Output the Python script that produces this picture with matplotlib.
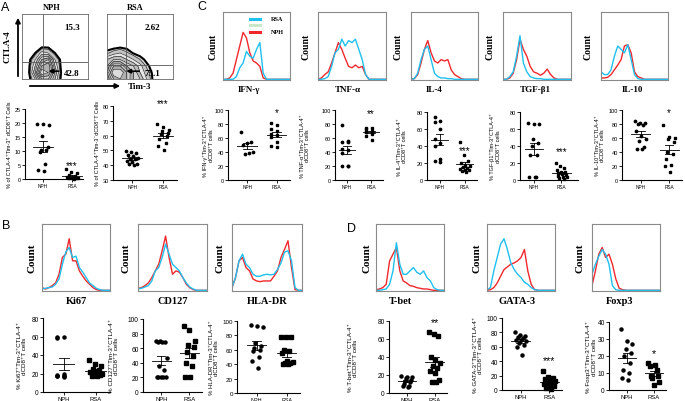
import numpy as np
import matplotlib
matplotlib.use("Agg")
import matplotlib.pyplot as plt

plt.rcParams['font.family'] = ['Liberation Sans', 'DejaVu Sans']

W, H = 685, 402
RED = '#f0282d'
CYAN = '#1ec0f0'
SERIF = ['Liberation Serif', 'DejaVu Serif']

# ---------------- data ----------------
# panel A flow plots: density grid, rows y = 0..0.6 (step 0.1), cols x = 0..1 (step 0.1)
flow_x = np.linspace(0, 1, 11)
flow_y = np.linspace(0, 0.6, 7)
nph_density = [
    [0, 0, 2, 6, 6, 3, 0, 0, 0, 0, 0],
    [0, 0.2, 4, 9, 8, 4, 0.2, 0, 0, 0, 0],
    [0, 0.1, 3, 7, 8, 3, 0, 0, 0, 0, 0],
    [0, 0, 2, 5, 6, 2, 0, 0, 0, 0, 0],
    [0, 0, 0.5, 2.5, 2, 0.5, 0, 0, 0, 0, 0],
    [0, 0, 0, 0.2, 0.2, 0, 0, 0, 0, 0, 0],
    [0, 0, 0, 0, 0, 0, 0, 0, 0, 0, 0],
]
rsa_density = [
    [4, 7, 8, 7, 5, 4, 2, 0.3, 0, 0, 0],
    [5, 9, 9, 7, 5, 3, 1.5, 0.2, 0, 0, 0],
    [4, 7, 7, 5, 4, 2.5, 0.8, 0, 0, 0, 0],
    [3, 4, 4, 3, 2, 1, 0.2, 0, 0, 0, 0],
    [0.8, 1.5, 2, 1.2, 0.4, 0, 0, 0, 0, 0, 0],
    [0, 0, 0.2, 0.1, 0, 0, 0, 0, 0, 0, 0],
    [0, 0, 0, 0, 0, 0, 0, 0, 0, 0, 0],
]
quad_nph = ['15.3', '42.8']
quad_rsa = ['2.62', '75.1']

# histograms (fraction of box height at x = 0, 0.05, ..., 1)
hist_x = np.linspace(0, 1, 21)
hist_red = {
    'IFN-γ': [0.01, 0.01, 0.03, 0.10, 0.30, 0.50, 0.70, 0.62, 0.40, 0.28, 0.25, 0.20, 0.03, 0.01, 0.01, 0.01, 0.01, 0.01, 0.01, 0.01, 0.01],
    'TNF-α': [0.01, 0.03, 0.08, 0.12, 0.25, 0.40, 0.55, 0.45, 0.32, 0.20, 0.18, 0.22, 0.18, 0.20, 0.08, 0.01, 0.01, 0.01, 0.01, 0.01, 0.01],
    'IL-4': [0.01, 0.02, 0.08, 0.25, 0.45, 0.58, 0.40, 0.28, 0.25, 0.30, 0.28, 0.30, 0.15, 0.08, 0.05, 0.02, 0.01, 0.01, 0.01, 0.01, 0.01],
    'TGF-β1': [0.01, 0.01, 0.03, 0.10, 0.30, 0.60, 0.45, 0.35, 0.20, 0.12, 0.10, 0.07, 0.10, 0.16, 0.08, 0.03, 0.01, 0.01, 0.01, 0.01, 0.01],
    'IL-10': [0.03, 0.03, 0.04, 0.08, 0.15, 0.22, 0.30, 0.50, 0.52, 0.40, 0.12, 0.05, 0.03, 0.01, 0.01, 0.01, 0.01, 0.01, 0.01, 0.01, 0.01],
    'Ki67': [0.05, 0.03, 0.05, 0.08, 0.12, 0.25, 0.50, 0.55, 0.78, 0.45, 0.45, 0.30, 0.22, 0.15, 0.10, 0.05, 0.02, 0.01, 0.01, 0.01, 0.01],
    'CD127': [0.04, 0.05, 0.08, 0.12, 0.20, 0.30, 0.40, 0.60, 0.82, 0.50, 0.25, 0.30, 0.28, 0.20, 0.10, 0.05, 0.02, 0.01, 0.01, 0.01, 0.01],
    'HLA-DR': [0.05, 0.20, 0.45, 0.50, 0.35, 0.30, 0.18, 0.15, 0.14, 0.15, 0.15, 0.15, 0.22, 0.30, 0.50, 0.62, 0.75, 0.35, 0.02, 0.01, 0.01],
    'T-bet': [0.02, 0.03, 0.05, 0.10, 0.45, 0.55, 0.65, 0.30, 0.15, 0.12, 0.08, 0.07, 0.05, 0.04, 0.03, 0.03, 0.02, 0.01, 0.01, 0.01, 0.01],
    'GATA-3': [0.01, 0.02, 0.05, 0.12, 0.22, 0.32, 0.36, 0.40, 0.42, 0.45, 0.50, 0.62, 0.30, 0.10, 0.02, 0.01, 0.01, 0.01, 0.01, 0.01, 0.01],
    'Foxp3': [0.08, 0.30, 0.55, 0.65, 0.50, 0.55, 0.40, 0.18, 0.04, 0.02, 0.01, 0.01, 0.01, 0.01, 0.01, 0.01, 0.01, 0.01, 0.01, 0.01, 0.01],
}
hist_cyan = {
    'IFN-γ': [0.01, 0.01, 0.01, 0.01, 0.05, 0.18, 0.25, 0.42, 0.35, 0.32, 0.45, 0.55, 0.10, 0.01, 0.01, 0.01, 0.01, 0.01, 0.01, 0.01, 0.01],
    'TNF-α': [0.01, 0.01, 0.02, 0.05, 0.20, 0.40, 0.45, 0.60, 0.50, 0.58, 0.55, 0.60, 0.45, 0.30, 0.08, 0.01, 0.01, 0.01, 0.01, 0.01, 0.01],
    'IL-4': [0.01, 0.02, 0.10, 0.30, 0.45, 0.50, 0.30, 0.10, 0.05, 0.03, 0.03, 0.02, 0.02, 0.01, 0.01, 0.01, 0.01, 0.01, 0.01, 0.01, 0.01],
    'TGF-β1': [0.01, 0.01, 0.05, 0.12, 0.35, 0.65, 0.25, 0.12, 0.05, 0.03, 0.02, 0.02, 0.01, 0.01, 0.01, 0.01, 0.01, 0.01, 0.01, 0.01, 0.01],
    'IL-10': [0.12, 0.08, 0.08, 0.15, 0.35, 0.50, 0.45, 0.40, 0.52, 0.30, 0.08, 0.02, 0.01, 0.01, 0.01, 0.01, 0.01, 0.01, 0.01, 0.01, 0.01],
    'Ki67': [0.03, 0.04, 0.05, 0.06, 0.10, 0.18, 0.40, 0.58, 0.65, 0.50, 0.52, 0.35, 0.28, 0.20, 0.12, 0.08, 0.04, 0.02, 0.01, 0.01, 0.01],
    'CD127': [0.03, 0.04, 0.06, 0.08, 0.15, 0.30, 0.35, 0.50, 0.70, 0.55, 0.40, 0.35, 0.30, 0.20, 0.12, 0.06, 0.03, 0.01, 0.01, 0.01, 0.01],
    'HLA-DR': [0.05, 0.20, 0.45, 0.55, 0.40, 0.35, 0.25, 0.22, 0.22, 0.24, 0.25, 0.24, 0.25, 0.32, 0.42, 0.58, 0.60, 0.45, 0.05, 0.01, 0.01],
    'T-bet': [0.01, 0.01, 0.02, 0.03, 0.10, 0.30, 0.72, 0.40, 0.25, 0.25, 0.30, 0.35, 0.28, 0.25, 0.30, 0.20, 0.15, 0.05, 0.02, 0.01, 0.01],
    'GATA-3': [0.02, 0.05, 0.30, 0.50, 0.70, 0.78, 0.62, 0.42, 0.32, 0.25, 0.20, 0.13, 0.10, 0.05, 0.02, 0.01, 0.01, 0.01, 0.01, 0.01, 0.01],
    'Foxp3': [0.25, 0.40, 0.52, 0.62, 0.55, 0.40, 0.08, 0.02, 0.01, 0.01, 0.01, 0.01, 0.01, 0.01, 0.01, 0.01, 0.01, 0.01, 0.01, 0.01, 0.01],
}

# dot plots (percent of cells)
groups = ['NPH', 'RSA']
a1_nph = [19.5, 19.5, 19.2, 15.2, 11.5, 10.5, 10.5, 9.5, 5.5, 3.2, 2.8]
a1_rsa = [3.5, 2.5, 2.0, 1.5, 1.0, 0.8, 0.5, 0.3, 0.2, 0.2, 0.1, 0.3]
a2_nph = [49.5, 49, 48, 47, 46, 45, 44.5, 44, 43, 42, 41, 40.5, 40]
a2_rsa = [68, 65.5, 64, 63, 62, 61, 60, 58, 55, 53, 50]
ifn_nph = [68, 55, 53, 50, 40, 38, 37]
ifn_rsa = [82, 78, 73, 70, 66, 65, 62, 55, 48, 47]
tnf_nph = [78, 56, 55, 54, 45, 43, 38, 20, 20, 20]
tnf_rsa = [75, 74, 73, 70, 69, 68, 68, 66, 63, 57]
il4_nph = [74, 70, 68, 60, 48, 44, 40, 25, 22, 21]
il4_rsa = [45, 30, 22, 20, 18, 16, 15, 14, 13, 12, 11, 12, 10]
tgf_nph = [67, 66, 66, 48, 44, 40, 30, 30, 4, 3, 3]
tgf_rsa = [20, 16, 14, 12, 10, 9, 8, 7, 6, 5, 4, 3, 2, 1]
il10_nph = [85, 82, 81, 80, 78, 70, 63, 58, 56, 47, 44, 44]
il10_rsa = [78, 62, 60, 58, 55, 40, 37, 30, 22, 20, 12]
ki67_nph = [59, 58, 60, 20, 18, 17, 17, 17, 17, 16]
ki67_rsa = [35, 30, 28, 25, 24, 22, 22, 20, 19, 18, 17, 17]
cd127_nph = [70, 69, 68, 70, 69, 47, 35, 30, 20, 20, 20, 20, 20]
cd127_rsa = [90, 85, 70, 65, 62, 55, 50, 40, 35, 20, 20]
hla_nph = [95, 93, 92, 70, 65, 63, 60, 58, 50, 45, 35]
hla_rsa = [78, 78, 78, 60, 58, 55, 45, 43, 42, 42, 40, 40]
tbet_nph = [19, 18, 18, 17, 15, 13, 12, 10, 8, 8, 7]
tbet_rsa = [68, 66, 63, 40, 37, 33, 30, 28, 25, 22, 15, 12, 12]
gata_nph = [80, 77, 75, 74, 72, 70, 70, 68, 65, 62, 60, 48]
gata_rsa = [26, 18, 16, 15, 14, 12, 11, 10, 8, 6, 5, 3, 2]
foxp3_nph = [36, 29, 27, 24, 22, 20, 16, 12, 10, 7, 6]
foxp3_rsa = [16, 15, 14, 12, 8, 8, 7, 5, 3]

fig = plt.figure(figsize=(W / 100, H / 100), dpi=100)


def box(x0, y0, x1, y1):
    return fig.add_axes([x0 / W, 1 - y1 / H, (x1 - x0) / W, (y1 - y0) / H])


def ftext(x, y, s, **kw):
    fig.text(x / W, 1 - y / H, s, **kw)


# ---------------- panel A flow plots ----------------
def flow(px, dens, vq, hq, labels, lab_x, arrow):
    ax = box(*px)
    ax.set_xlim(0, 1)
    ax.set_ylim(0, 1)
    z = np.array(dens)
    lev = [0.5, 1, 2, 3, 4, 5, 6, 7, 8, 10]
    fills = ['#d9d9d9', '#c4c4c4', '#e6e6e6', '#bdbdbd', '#d2d2d2',
             '#a9a9a9', '#cfcfcf', '#b0b0b0', '#dcdcdc']
    ax.contourf(flow_x, flow_y, z, levels=lev, colors=fills)
    ax.contour(flow_x, flow_y, z, levels=[0.5], colors='black', linewidths=1.5)
    ax.contour(flow_x, flow_y, z, levels=lev[1:-1], colors='#202020', linewidths=0.45)
    ax.axvline(vq, color='#555555', lw=0.6)
    ax.axhline(hq, color='#555555', lw=0.6)
    ax.text(lab_x, 0.8, labels[0], transform=ax.transAxes, ha='left', va='center',
            fontsize=6.5, fontweight='bold', family=SERIF)
    ax.text(lab_x, 0.1, labels[1], transform=ax.transAxes, ha='left', va='center',
            fontsize=6.5, fontweight='bold', family=SERIF)
    ax.annotate('', xy=(arrow[1], 0.12), xytext=(arrow[0], 0.12),
                arrowprops=dict(arrowstyle='-|>', color='black', lw=1.2, mutation_scale=6))
    for s in ax.spines.values():
        s.set_color('#666666')
        s.set_linewidth(0.6)
    ax.set_xticks([])
    ax.set_yticks([])
    return ax


flow((22, 15, 88, 80), nph_density, 0.32, 0.26, quad_nph, 0.64, (0.6, 0.36))
flow((107, 15, 173, 80), rsa_density, 0.29, 0.22, quad_rsa, 0.57, (0.53, 0.25))
ftext(52, 8, 'NPH', fontsize=6, fontweight='bold', family=SERIF, ha='center', va='center')
ftext(135, 8, 'RSA', fontsize=6, fontweight='bold', family=SERIF, ha='center', va='center')
ftext(8, 47, 'CTLA-4', fontsize=6.5, fontweight='bold', family=SERIF, rotation=90,
      ha='center', va='center')
ftext(140, 87, 'Tim-3', fontsize=6.5, fontweight='bold', family=SERIF, ha='center', va='center')
fig.add_artist(matplotlib.patches.FancyArrowPatch(
    (18 / W, 1 - 80 / H), (18 / W, 1 - 16 / H), transform=fig.transFigure,
    arrowstyle='-|>', mutation_scale=7, lw=1.3, color='black'))
fig.add_artist(matplotlib.patches.FancyArrowPatch(
    (27 / W, 1 - 87 / H), (123 / W, 1 - 87 / H), transform=fig.transFigure,
    arrowstyle='-|>', mutation_scale=7, lw=1.3, color='black'))


# ---------------- histograms ----------------
def hist(px, name, count_x, fs_count, fs_lab, lab_dx=0, legend=False):
    ax = box(*px)
    ax.plot(hist_x, hist_red[name], color=RED, lw=1.0)
    ax.plot(hist_x, hist_cyan[name], color=CYAN, lw=1.0)
    ax.set_xlim(0, 1)
    ax.set_ylim(0, 1)
    ax.set_xticks([])
    ax.set_yticks([])
    for s in ax.spines.values():
        s.set_color('#8a8a8a')
        s.set_linewidth(0.8)
    x0, y0, x1, y1 = px
    ftext(count_x, (y0 + y1) / 2, 'Count', fontsize=fs_count, fontweight='bold',
          family=SERIF, rotation=90, ha='center', va='center')
    ftext((x0 + x1) / 2 + lab_dx, y1 + 9.5, name, fontsize=fs_lab, fontweight='bold',
          family=SERIF, ha='center', va='center')
    if legend:
        for yy, c, t in [(0.9, CYAN, 'RSA'), (0.81, '#c8e8c8', ''), (0.71, RED, 'NPH')]:
            ax.plot([0.4, 0.55], [yy, yy], color=c, lw=2.2)
            if t:
                ax.text(0.72, yy, t, fontsize=4.5, fontweight='bold', family=SERIF,
                        va='center', ha='left')
    return ax


hist((223, 13, 290, 81), 'IFN-γ', 213, 7, 6.5, lab_dx=-8, legend=True)
hist((318, 13, 386, 81), 'TNF-α', 306, 7, 6.5, lab_dx=-4)
hist((411, 13, 478, 81), 'IL-4', 398, 7, 6.5, lab_dx=-10)
hist((503, 13, 571, 81), 'TGF-β1', 490, 7, 6.5, lab_dx=-2)
hist((601, 13, 668, 81), 'IL-10', 588, 7, 6.5, lab_dx=-2)
hist((42, 225, 110, 292), 'Ki67', 32, 8, 7.5)
hist((138, 225, 207, 292), 'CD127', 126, 8, 7.5)
hist((232, 225, 302, 292), 'HLA-DR', 220, 8, 7.5)
hist((376, 225, 444, 292), 'T-bet', 367, 8, 7.5, lab_dx=-10)
hist((487, 225, 555, 292), 'GATA-3', 477, 8, 7.5, lab_dx=-4)
hist((592, 225, 660, 292), 'Foxp3', 580, 8, 7.5, lab_dx=-6)


# ---------------- dot plots ----------------
def spread(n, width):
    base = np.linspace(-width, width, n) if n > 1 else np.zeros(1)
    order = [(i * 5) % n for i in range(n)]
    return base[order]


def dotplot(px, ylo, yhi, step, nph, rsa, ylabel, lab_x, star=None, star_y=None,
            fs=4.0, xlim=(0.35, 2.45), ms=1.7, lab_fs=None):
    x0, ytop, x1, ybot = px
    ax = box(x0, ytop, x1, ybot)
    for i, (vals, mk) in enumerate([(nph, 'o'), (rsa, 's')]):
        v = np.sort(np.array(vals, dtype=float))[::-1]
        xs = i + 1 + spread(len(v), 0.2)
        ax.plot(xs, v, linestyle='none', marker=mk, ms=ms, color='black', clip_on=False)
        m = v.mean()
        se = v.std(ddof=1) / np.sqrt(len(v))
        ax.plot([i + 1 - 0.33, i + 1 + 0.33], [m, m], color='black', lw=0.6)
        ax.plot([i + 1, i + 1], [m - se, m + se], color='black', lw=0.6)
        ax.plot([i + 1 - 0.15, i + 1 + 0.15], [m + se, m + se], color='black', lw=0.6)
        ax.plot([i + 1 - 0.15, i + 1 + 0.15], [m - se, m - se], color='black', lw=0.6)
    ax.set_xlim(*xlim)
    ax.set_ylim(ylo, yhi)
    ax.set_yticks(np.arange(ylo, yhi + 0.1, step))
    ax.set_xticks([1, 2])
    ax.set_xticklabels(groups)
    ax.tick_params(labelsize=fs, length=2, width=0.6, pad=1)
    ax.tick_params(axis='x', labelsize=fs - 0.6)
    for s in ['top', 'right']:
        ax.spines[s].set_visible(False)
    for s in ['left', 'bottom']:
        ax.spines[s].set_linewidth(0.8)
    ax.patch.set_alpha(0)
    ftext(lab_x, (ytop + ybot) / 2, ylabel, fontsize=lab_fs or fs, rotation=90,
          ha='center', va='center', linespacing=1.2)
    if star:
        ax.text(2, star_y, star, ha='center', va='center', fontsize=fs + 3)
    return ax


dotplot((25, 110, 83, 180), 0, 25, 5, a1_nph, a1_rsa,
        '% of CTLA-4⁺Tim-3⁺ dCD8⁺T Cells', 10, '***', 4.8, xlim=(0.38, 2.38))
dotplot((113, 107, 177, 181), 30, 80, 10, a2_nph, a2_rsa,
        '% of CTLA-4⁺Tim-3⁻dCD8⁺T Cells', 98, '***', 82, xlim=(0.38, 2.45))

dotplot((228, 111, 290, 181), 0, 100, 20, ifn_nph, ifn_rsa,
        '% IFN-γ⁺Tim-3⁺CTLA-4⁺\ndCD8⁺T cells', 208, '*', 97)
dotplot((335, 111, 383, 181), 0, 100, 20, tnf_nph, tnf_rsa,
        '% TNF-α⁺Tim-3⁺CTLA-4⁺\ndCD8⁺T cells', 305, '**', 95, xlim=(0.5, 2.5))
dotplot((427, 113, 477, 181), 0, 80, 20, il4_nph, il4_rsa,
        '% IL-4⁺Tim-3⁺CTLA-4⁺\ndCD8⁺T cells', 402, '***', 35, xlim=(0.5, 2.5))
dotplot((520, 113, 578, 181), 0, 80, 20, tgf_nph, tgf_rsa,
        '% TGF-β1⁺Tim-3⁺CTLA-4⁺\ndCD8⁺T cells', 495, '***', 34, xlim=(0.5, 2.6))
dotplot((622, 111, 682, 181), 0, 100, 20, il10_nph, il10_rsa,
        '% IL-10⁺Tim-3⁺CTLA-4⁺\ndCD8⁺T cells', 600, '*', 97)

dotplot((43, 319, 110, 393), 0, 80, 20, ki67_nph, ki67_rsa,
        '% Ki67⁺Tim-3⁺CTLA-4⁺\ndCD8⁺T cells', 22, fs=4.8, ms=2.2, lab_fs=4.5)
dotplot((143, 320, 202, 393), 0, 100, 20, cd127_nph, cd127_rsa,
        '% CD127⁺Tim-3⁺CTLA-4⁺\ndCD8⁺T cells', 114, fs=4.8, ms=2.2, lab_fs=4.5)
dotplot((237, 322, 300, 394), 0, 100, 20, hla_nph, hla_rsa,
        '% HLA-DR⁺Tim-3⁺CTLA-4⁺\ndCD8⁺T cells', 214, fs=4.5, ms=2.2, lab_fs=4.3)

dotplot((389, 322, 447, 394), 0, 80, 20, tbet_nph, tbet_rsa,
        '% T-bet⁺Tim-3⁺CTLA-4⁺\ndCD8⁺T cells', 353, '**', 79, fs=4.8, ms=2.2, lab_fs=4.5)
dotplot((502, 319, 562, 391), 0, 100, 20, gata_nph, gata_rsa,
        '% GATA-3⁺Tim-3⁺CTLA-4⁺\ndCD8⁺T cells', 478, '***', 41, fs=4.8, ms=2.2, lab_fs=4.5)
dotplot((609, 323, 666, 391), 0, 40, 10, foxp3_nph, foxp3_rsa,
        '% Foxp3⁺Tim-3⁺CTLA-4⁺\ndCD8⁺T cells', 591, '*', 22, fs=4.8, ms=2.2, lab_fs=4.5)

# panel letters
for (x, y, s) in [(5, 8, 'A'), (202, 7, 'C'), (6, 226, 'B'), (351, 229, 'D')]:
    ftext(x, y, s, fontsize=9, ha='center', va='center')

fig.savefig('out.png', dpi=100)
